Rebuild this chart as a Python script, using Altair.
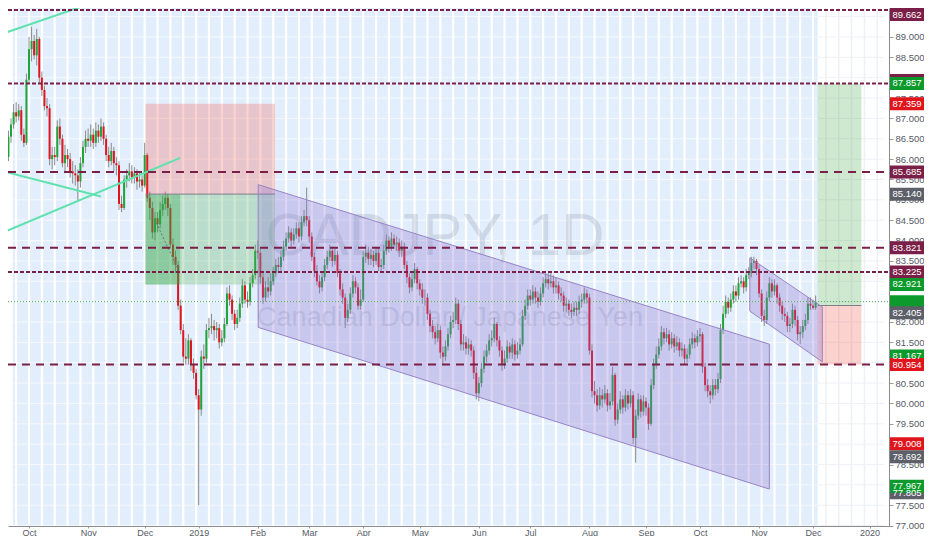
import altair as alt
import numpy as np
import pandas as pd

# ---------------- data ----------------
# daily closes CADJPY, one value per trading day from 2018-09-18
close = [
    86.05, 86.55, 86.85, 87.15, 87.05, 87.2, 86.6, 86.4, 87.95,                       # Sep 18
    88.7, 88.9, 88.55, 88.95, 88.0, 87.7, 87.3, 87.25, 86.0, 86.1, 86.05, 86.8,         # Oct 18
    86.5, 85.9, 86.1, 86.0, 85.7, 85.65, 85.6, 85.45, 85.9, 86.3, 86.5,
    86.45, 86.6, 86.4, 86.7, 86.55, 86.8, 86.5, 86.1, 85.95, 86.2, 85.9,                # Nov 18
    85.85, 84.9, 84.8, 85.5, 85.6, 85.7, 85.55, 85.65, 85.45, 85.5, 85.35,
    86.1, 85.05, 84.8, 84.2, 84.55, 84.4, 84.75, 84.9, 85.05, 84.8, 83.9,               # Dec 18
    83.6, 83.4, 82.4, 81.8, 81.15, 81.1, 81.55, 80.95, 80.75, 80.2,
    79.85, 81.15, 81.1, 81.8, 81.85, 81.9, 81.8, 81.85, 81.5, 81.6, 81.95, 82.7,        # Jan 19
    82.55, 82.2, 81.95, 82.1, 82.45, 82.9, 82.55, 82.5, 82.95, 83.15, 83.75,
    83.7, 83.1, 82.6, 82.85, 82.75, 83.0, 83.2, 83.4, 83.35, 83.6,                      # Feb 19
    83.85, 84.05, 84.2, 84.0, 84.15, 84.3, 84.1, 84.45, 84.6, 84.5,
    84.1, 83.6, 83.25, 83.0, 82.85, 83.1, 83.4, 83.6, 83.75, 83.5, 83.65,               # Mar 19
    83.2, 82.8, 82.6, 82.1, 82.3, 82.7, 83.0, 82.85, 82.4, 82.55,
    83.6, 83.7, 83.55, 83.65, 83.5, 83.7, 83.35, 83.4, 83.75, 84.0, 83.85,              # Apr 19
    84.05, 83.9, 83.95, 83.75, 83.85, 83.4, 83.1, 82.85, 83.05, 83.3, 82.95,
    82.8, 82.6, 82.6, 82.2, 81.9, 81.75, 81.6, 81.8, 81.25, 81.15, 81.4, 81.7,          # May 19
    82.0, 82.05, 82.45, 81.95, 81.45, 81.5, 81.35, 81.45, 81.3, 80.75, 80.25,
    80.5, 80.85, 81.15, 81.3, 81.55, 81.6, 81.95, 81.55, 81.3, 80.95,                   # Jun 19
    81.1, 81.4, 81.25, 81.45, 81.2, 81.3, 81.45, 82.15, 82.4, 82.65,
    82.55, 82.75, 82.6, 82.5, 82.7, 82.95, 83.05, 82.95, 83.0, 82.85, 82.9, 82.7,       # Jul 19
    82.65, 82.4, 82.45, 82.3, 82.25, 82.35, 82.3, 82.5, 82.55, 82.7, 82.6,
    81.3, 80.3, 80.2, 79.95, 80.2, 80.1, 80.25, 79.95, 80.05, 80.7, 79.6,               # Aug 19
    79.85, 80.1, 79.9, 80.2, 80.0, 80.2, 79.15, 79.7, 80.1, 79.8, 80.05,
    79.9, 79.5, 80.45, 80.95, 81.2, 81.4, 81.75, 81.6, 81.7, 81.45, 81.6,               # Sep 19
    81.4, 81.5, 81.3, 81.35, 81.1, 81.2, 81.45, 81.6, 81.5, 81.65,
    81.7, 80.9, 80.45, 80.3, 80.2, 80.45, 80.35, 80.6, 81.8, 82.2, 82.5, 82.35,         # Oct 19
    82.55, 82.75, 82.65, 82.95, 83.0, 82.85, 83.15, 83.2, 83.45, 83.5, 83.3,
    82.7, 82.15, 82.05, 82.6, 82.95, 82.75, 82.9, 82.6, 82.4, 82.2, 82.15,              # Nov 19
    81.9, 81.95, 82.3, 82.05, 81.7, 81.75, 81.9, 82.05, 82.45, 82.4, 82.35, 82.5,
]
high = [
    86.35, 86.7, 87.0, 87.35, 87.4, 87.35, 87.3, 86.75, 88.1,
    89.0, 89.25, 89.05, 89.2, 89.0, 88.15, 87.8, 87.5, 87.35, 86.3, 86.3, 86.95,
    87.0, 86.6, 86.35, 86.25, 86.15, 85.95, 85.85, 85.75, 86.05, 86.45, 86.7,
    86.75, 86.85, 86.75, 86.9, 86.85, 87.0, 86.9, 86.6, 86.3, 86.4, 86.3,
    86.05, 85.95, 85.1, 85.6, 85.75, 85.9, 85.85, 85.8, 85.75, 85.7, 85.6,
    86.4, 86.15, 85.2, 84.95, 84.7, 84.7, 84.95, 85.1, 85.2, 85.15, 84.9,
    84.05, 83.75, 83.5, 82.55, 81.95, 81.6, 81.7, 81.6, 81.1, 80.85,
    80.35, 81.3, 81.45, 81.95, 82.1, 82.2, 82.05, 82.0, 81.95, 81.8, 82.1, 82.85,
    82.9, 82.65, 82.3, 82.3, 82.6, 83.05, 83.0, 82.75, 83.1, 83.3, 83.9,
    84.0, 83.8, 83.2, 83.0, 83.1, 83.2, 83.35, 83.55, 83.6, 83.75,
    84.0, 84.2, 84.35, 84.3, 84.3, 84.45, 84.45, 84.6, 84.75, 85.3,
    84.6, 84.2, 83.7, 83.4, 83.15, 83.25, 83.55, 83.75, 83.9, 83.85, 83.8,
    83.75, 83.3, 82.95, 82.7, 82.45, 82.85, 83.15, 83.1, 82.95, 82.8,
    83.75, 83.9, 83.85, 83.8, 83.75, 83.85, 83.8, 83.55, 83.9, 84.15, 84.1,
    84.2, 84.15, 84.1, 84.05, 84.0, 83.95, 83.5, 83.2, 83.2, 83.45, 83.35,
    83.05, 82.95, 82.8, 82.7, 82.3, 82.05, 81.9, 81.95, 81.9, 81.4, 81.55, 81.85,
    82.15, 82.25, 82.6, 82.55, 82.05, 81.7, 81.65, 81.6, 81.55, 81.4, 80.9,
    80.65, 81.0, 81.3, 81.45, 81.7, 81.8, 82.1, 82.0, 81.65, 81.4,
    81.3, 81.55, 81.5, 81.6, 81.55, 81.5, 81.6, 82.3, 82.55, 82.8,
    82.8, 82.9, 82.85, 82.75, 82.85, 83.1, 83.2, 83.2, 83.25, 83.15, 83.1, 83.0,
    82.85, 82.75, 82.6, 82.55, 82.45, 82.5, 82.5, 82.65, 82.7, 82.85, 82.8,
    82.7, 81.45, 80.55, 80.35, 80.4, 80.35, 80.45, 80.35, 80.25, 80.9, 80.75,
    80.0, 80.3, 80.2, 80.35, 80.3, 80.35, 80.3, 79.85, 80.25, 80.2, 80.2,
    80.15, 80.0, 80.6, 81.1, 81.4, 81.6, 81.9, 81.85, 81.85, 81.8, 81.75,
    81.7, 81.65, 81.6, 81.5, 81.45, 81.35, 81.6, 81.75, 81.7, 81.8,
    81.85, 81.75, 81.0, 80.6, 80.45, 80.6, 80.6, 80.75, 81.95, 82.4, 82.65, 82.6,
    82.7, 82.9, 82.9, 83.1, 83.15, 83.1, 83.3, 83.35, 83.6, 83.6, 83.55,
    83.4, 82.8, 82.3, 82.75, 83.1, 83.05, 83.05, 82.95, 82.7, 82.5, 82.35,
    82.25, 82.1, 82.45, 82.4, 82.15, 81.9, 82.05, 82.2, 82.6, 82.6, 82.55, 82.65,
]
low = [
    85.85, 85.95, 86.4, 86.75, 86.9, 86.95, 86.45, 86.3, 86.35,
    87.85, 88.4, 88.45, 88.3, 87.85, 87.55, 87.2, 87.05, 85.85, 85.75, 85.85, 85.95,
    86.35, 85.8, 85.7, 85.8, 85.55, 85.4, 85.35, 84.95, 85.3, 85.8, 86.15,
    86.3, 86.3, 86.25, 86.3, 86.4, 86.45, 86.35, 85.95, 85.8, 85.85, 85.7,
    85.6, 84.75, 84.7, 84.75, 85.3, 85.45, 85.4, 85.4, 85.25, 85.3, 85.2,
    85.3, 84.95, 84.5, 84.05, 84.0, 84.2, 84.3, 84.6, 84.75, 84.6, 83.8,
    83.4, 83.2, 82.3, 81.7, 81.0, 80.95, 80.95, 80.8, 80.6, 80.1,
    77.5, 79.7, 80.85, 81.0, 81.6, 81.7, 81.55, 81.6, 81.35, 81.4, 81.5, 81.9,
    82.4, 82.05, 81.8, 81.85, 82.0, 82.35, 82.45, 82.35, 82.4, 82.85, 83.05,
    83.55, 82.95, 82.45, 82.5, 82.6, 82.65, 82.9, 83.1, 83.2, 83.25,
    83.5, 83.75, 83.95, 83.85, 83.9, 84.05, 83.95, 84.0, 84.35, 84.35,
    83.95, 83.5, 83.1, 82.9, 82.7, 82.75, 83.0, 83.3, 83.5, 83.35, 83.4,
    83.1, 82.65, 82.45, 81.85, 82.0, 82.2, 82.6, 82.7, 82.3, 82.3,
    82.5, 83.45, 83.4, 83.4, 83.35, 83.4, 83.25, 83.2, 83.3, 83.65, 83.7,
    83.75, 83.8, 83.75, 83.6, 83.6, 83.3, 82.95, 82.7, 82.75, 82.95, 82.8,
    82.65, 82.45, 82.4, 82.05, 81.75, 81.6, 81.45, 81.5, 81.1, 80.95, 81.05, 81.3,
    81.6, 81.85, 81.95, 81.8, 81.3, 81.3, 81.2, 81.2, 81.15, 80.6, 80.1,
    80.05, 80.4, 80.75, 81.0, 81.2, 81.4, 81.5, 81.4, 81.15, 80.8,
    80.85, 81.0, 81.1, 81.1, 81.05, 81.1, 81.2, 81.4, 82.05, 82.3,
    82.4, 82.45, 82.45, 82.35, 82.4, 82.6, 82.85, 82.8, 82.85, 82.7, 82.7, 82.55,
    82.5, 82.25, 82.25, 82.15, 82.1, 82.15, 82.15, 82.2, 82.35, 82.45, 82.45,
    81.2, 80.15, 80.0, 79.8, 79.85, 79.9, 80.0, 79.8, 79.85, 79.95, 79.45,
    79.5, 79.75, 79.75, 79.8, 79.85, 79.9, 79.0, 78.55, 79.6, 79.65, 79.7,
    79.7, 79.35, 79.45, 80.35, 80.85, 81.1, 81.3, 81.45, 81.5, 81.3, 81.35,
    81.25, 81.3, 81.15, 81.15, 80.95, 81.0, 81.1, 81.35, 81.35, 81.4,
    81.5, 80.75, 80.3, 80.15, 80.0, 80.1, 80.2, 80.25, 80.5, 81.7, 82.1, 82.2,
    82.25, 82.45, 82.5, 82.55, 82.85, 82.7, 82.75, 83.05, 83.1, 83.3, 83.15,
    82.6, 82.0, 81.9, 81.95, 82.5, 82.6, 82.65, 82.45, 82.25, 82.05, 82.0,
    81.75, 81.75, 81.85, 81.9, 81.55, 81.45, 81.6, 81.8, 81.95, 82.3, 82.3, 82.3,
]
first_open = 86.2

# horizontal levels drawn on the chart
levels_dense = [89.662, 87.857, 83.225]
levels_long = [85.685, 83.821, 80.954]
last_price_line = 82.5

# price scale ticks that TradingView leaves visible
price_ticks = [77.0, 77.5, 78.5, 79.5, 80.0, 80.5, 81.5, 82.0, 83.5, 84.0, 84.5,
               85.0, 85.5, 86.0, 86.5, 87.0, 87.5, 88.5, 89.0, 89.5]
grid_prices = [77.0, 77.5, 78.0, 78.5, 79.0, 79.5, 80.0, 80.5, 81.0, 81.5, 82.0, 82.5, 83.0,
               83.5, 84.0, 84.5, 85.0, 85.5, 86.0, 86.5, 87.0, 87.5, 88.0, 88.5, 89.0, 89.5]

# price labels on the right scale (text, drawn at, colour group)
label_text = ["89.662", "", "87.857", "87.359", "85.685", "85.140", "83.821", "83.225",
              "82.921", "", "82.405", "81.167", "80.954", "79.008", "78.692", "77.805", "77.967"]
label_pos = [89.55, 87.93, 87.857, 87.359, 85.685, 85.14, 83.821, 83.225,
             82.921, 82.5, 82.23, 81.167, 80.954, 79.008, 78.692, 77.805, 77.967]
label_kind = ["maroon", "maroon", "green", "red", "maroon", "gray", "maroon", "maroon",
              "green", "green", "gray", "green", "red", "red", "gray", "gray", "green"]

# position tools (bar index span, prices)
short_span = [54.3, 104.7]
short_closed = 67.8
short_stop, short_entry, short_target = 87.359, 85.140, 82.921
short_path = [(58.5, 84.44), (67.0, 83.29)]
long_span = [315.8, 332.8]
long_target, long_entry, long_stop = 87.857, 82.405, 80.954

# parallel channels: (left index, right index, top-left, top-right, bottom-left, bottom-right)
chan_big = [98.15, 297.0, 85.373, 81.456, 81.868, 77.897]
chan_small = [289.4, 317.6, 83.576, 82.370, 82.267, 81.022]

# green trend lines (index, price) pairs
trend_lines = {
    "t1": [(-0.3, 89.10), (37.0, 89.91)],
    "t2": [(-0.3, 85.69), (37.0, 85.08)],
    "t3": [(-0.3, 84.22), (67.8, 86.03)],
}

# ---------------- layout constants ----------------
W, H = 881, 518
X_LO, X_HI = 2.77, 341.6
Y_LO, Y_HI = 76.99, 89.711
FONT = "Liberation Sans"

n = len(close)
opens = [first_open] + close[:-1]
candles = pd.DataFrame({"i": list(range(n)), "open": opens, "high": high, "low": low, "close": close})
candles["dir"] = np.where(candles["close"] >= candles["open"], "up", "down")
data_end = n - 1 + 0.8

all_days = pd.bdate_range("2018-09-18", "2020-02-28")
month_idx, month_name = [], []
for k in range(1, len(all_days)):
    if all_days[k].month != all_days[k - 1].month and k <= X_HI:
        month_idx.append(k)
        d = all_days[k]
        month_name.append(str(d.year) if d.month == 1 else d.strftime("%b"))
mondays = [k for k, d in enumerate(all_days) if d.weekday() == 0 and k <= X_HI]

label_expr = " : ".join(f"datum.value == {k} ? '{nm}'" for k, nm in zip(month_idx, month_name)) + " : ''"

xs = alt.Scale(domain=[X_LO, X_HI], nice=False, zero=False)
ys = alt.Scale(domain=[Y_LO, Y_HI], nice=False, zero=False)
xaxis = alt.Axis(values=month_idx, labelExpr=label_expr, grid=False, tickSize=2, tickColor="#9a9a9a",
                 domainColor="#8c8c8c", labelColor="#555a66", labelFontSize=9, labelFont=FONT,
                 labelPadding=0, title=None, labelOverlap=False, labelFlush=False)
yaxis = alt.Axis(orient="right", values=price_ticks, format=".3f", grid=False, tickSize=4,
                 tickColor="#9a9a9a", domainColor="#8c8c8c", labelColor="#555a66", labelFontSize=9.5,
                 labelFont=FONT, labelPadding=2, title=None, labelOverlap=False, labelFlush=False)


def X(f):
    return alt.X(f, type="quantitative", scale=xs, axis=xaxis)


def Y(f):
    return alt.Y(f, type="quantitative", scale=ys, axis=yaxis)


# background (chart history area is tinted)
bg = alt.Chart(pd.DataFrame({"a": [X_LO], "b": [data_end], "c": [Y_LO], "d": [Y_HI]})).mark_rect(
    color="#e2eefb", clip=True).encode(x=X("a"), x2="b", y=Y("c"), y2="d")

grid_df = pd.DataFrame({"p": grid_prices})
grid_h1 = alt.Chart(grid_df).transform_calculate(a=f"{X_LO}", b=f"{data_end}").mark_rule(
    color="#f5f9fe", strokeWidth=1, clip=True).encode(x=X("a:Q"), x2="b:Q", y=Y("p"))
grid_h2 = alt.Chart(grid_df).transform_calculate(a=f"{data_end}", b=f"{X_HI}").mark_rule(
    color="#eef1f6", strokeWidth=1, clip=True).encode(x=X("a:Q"), x2="b:Q", y=Y("p"))

wk = pd.DataFrame({"w": mondays})
wk_in = wk[wk["w"] <= data_end]
wk_out = wk[wk["w"] > data_end]
grid_v1 = alt.Chart(wk_in).mark_rule(color="#ffffff", strokeWidth=2.2, clip=True).encode(
    x=X("w"), y=alt.value(0), y2=alt.value(H))
grid_v2 = alt.Chart(wk_out).mark_rule(color="#edf0f5", strokeWidth=1.5, clip=True).encode(
    x=X("w"), y=alt.value(0), y2=alt.value(H))

wm1 = alt.Chart(pd.DataFrame({"t": ["CADJPY, 1D"]})).mark_text(
    fontSize=60, font=FONT, color="#7f8aa3", opacity=0.22, align="center", baseline="middle").encode(
    x=alt.value(427), y=alt.value(229), text="t")
wm2 = alt.Chart(pd.DataFrame({"t": ["Canadian Dollar / Japanese Yen"]})).mark_text(
    fontSize=27, font=FONT, color="#7f8aa3", opacity=0.22, align="center", baseline="middle").encode(
    x=alt.value(442), y=alt.value(310), text="t")

wicks = alt.Chart(candles).mark_rule(color="#8a8a8a", strokeWidth=1, clip=True).encode(
    x=X("i"), y=Y("low"), y2="high")
bodies = alt.Chart(candles).mark_bar(size=2, clip=True).encode(
    x=X("i"), y=Y("open"), y2="close",
    color=alt.Color("dir:N", scale=alt.Scale(domain=["up", "down"], range=["#1fa33a", "#e0141e"]), legend=None))

boxes = pd.DataFrame({
    "x0": [short_span[0], short_span[0], short_span[0], long_span[0], long_span[0]],
    "x1": [short_span[1], short_span[1], short_closed, long_span[1], long_span[1]],
    "y0": [short_entry, short_target, short_target, long_entry, long_stop],
    "y1": [short_stop, short_entry, short_entry, long_target, long_entry],
    "zone": ["risk", "reward", "done", "reward", "risk"],
})
box_layer = alt.Chart(boxes).mark_rect(clip=True).encode(
    x=X("x0"), x2="x1", y=Y("y0"), y2="y1",
    color=alt.Color("zone:N", scale=alt.Scale(domain=["risk", "reward", "done"],
                                              range=["#f44336", "#4caf50", "#1f9e3c"]), legend=None),
    opacity=alt.Opacity("zone:N", scale=alt.Scale(domain=["risk", "reward", "done"], range=[0.24, 0.3, 0.4]),
                        legend=None))
entries = pd.DataFrame({"x0": [short_span[0], long_span[0]], "x1": [short_span[1], long_span[1]],
                        "p": [short_entry, long_entry]})
entry_layer = alt.Chart(entries).mark_rule(color="#7d7f88", strokeWidth=1, clip=True).encode(
    x=X("x0"), x2="x1", y=Y("p"))
path_layer = alt.Chart(pd.DataFrame({"x": [p[0] for p in short_path], "p": [p[1] for p in short_path]})).mark_line(
    color="#6f7178", strokeWidth=1, strokeDash=[2, 2], clip=True).encode(x=X("x"), y=Y("p"))

chan_rows = []
for name, c in (("big", chan_big), ("small", chan_small)):
    chan_rows.append({"c": name, "x": c[0], "top": c[2], "bot": c[4]})
    chan_rows.append({"c": name, "x": c[1], "top": c[3], "bot": c[5]})
channels = alt.Chart(pd.DataFrame(chan_rows)).mark_area(
    fill="#8a6fcf", fillOpacity=0.3, stroke="#9783c6", strokeWidth=1, clip=True).encode(
    x=X("x"), y=Y("top"), y2="bot", detail="c:N")

tl_rows = [{"l": k, "x": p[0], "p": p[1], "o": j} for k, pts in trend_lines.items() for j, p in enumerate(pts)]
trend = alt.Chart(pd.DataFrame(tl_rows)).mark_line(color="#5fe2ae", strokeWidth=2, clip=True).encode(
    x=X("x"), y=Y("p"), detail="l:N", order="o:Q")

lv_dense = alt.Chart(pd.DataFrame({"p": levels_dense})).mark_rule(
    color="#7a1f47", strokeWidth=2, strokeDash=[4, 2]).encode(x=alt.value(0), x2=alt.value(W), y=Y("p"))
lv_long = alt.Chart(pd.DataFrame({"p": levels_long})).mark_rule(
    color="#7a1f47", strokeWidth=2, strokeDash=[8, 6]).encode(x=alt.value(0), x2=alt.value(W), y=Y("p"))
last_line = alt.Chart(pd.DataFrame({"p": [last_price_line]})).mark_rule(
    color="#4caf50", strokeWidth=1, strokeDash=[1, 2]).encode(x=alt.value(0), x2=alt.value(W), y=Y("p"))

lab = pd.DataFrame({"t": label_text, "p": label_pos, "kind": label_kind, "o": list(range(len(label_text)))})
lab_box = alt.Chart(lab).mark_tick(orient="horizontal", size=34, thickness=13, opacity=1).encode(
    x=alt.value(W + 18), y=Y("p"), order="o:Q",
    color=alt.Color("kind:N", scale=alt.Scale(domain=["maroon", "red", "green", "gray"],
                                              range=["#7a1f47", "#e0151c", "#0b9a2b", "#5d6069"]), legend=None))
lab_txt = alt.Chart(lab).mark_text(color="white", fontSize=9.5, font=FONT, align="center",
                                   baseline="middle").encode(x=alt.value(W + 18), y=Y("p"), text="t:N")

chart = alt.layer(
    bg, grid_h1, grid_h2, grid_v1, grid_v2, wm1, wm2, wicks, bodies,
    box_layer, entry_layer, path_layer, channels, trend, lv_dense, lv_long, last_line, lab_box, lab_txt
).resolve_scale(color="independent", opacity="independent").properties(
    width=W, height=H, autosize=alt.AutoSizeParams(type="none"),
    padding={"left": 0, "top": 0, "right": 35, "bottom": 10},
).configure_view(stroke=None)

chart.save("out.html", embed_options={"renderer": "svg", "actions": False})
